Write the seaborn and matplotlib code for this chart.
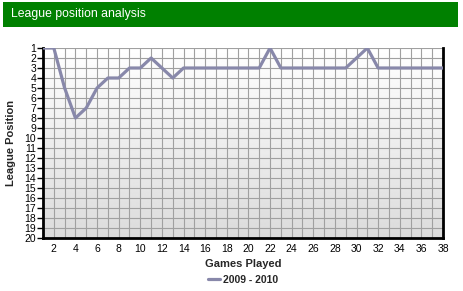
import numpy as np
import pandas as pd
import matplotlib
matplotlib.use("Agg")
import matplotlib.pyplot as plt
import seaborn as sns
from matplotlib.patches import Rectangle

games = list(range(1, 39))
positions = [1, 1, 5, 8, 7, 5, 4, 4, 3, 3, 2, 3, 4, 3, 3, 3, 3, 3, 3, 3,
             3, 1, 3, 3, 3, 3, 3, 3, 3, 2, 1, 3, 3, 3, 3, 3, 3, 3]
season = "2009 - 2010"
title = "League position analysis"
xlabel = "Games Played"
ylabel = "League Position"
xticks = list(range(2, 39, 2))
yticks = list(range(1, 21))

df = pd.DataFrame({"game": games, "pos": positions, "season": season})

sns.set_style("white")
plt.rcParams["font.family"] = ["Liberation Sans", "DejaVu Sans"]

W, H = 464, 291
fig = plt.figure(figsize=(W / 100, H / 100), dpi=100)
L, R, T, B = 43, 443, 48, 238
ax = fig.add_axes([L / W, 1 - B / H, (R - L) / W, (B - T) / H])

# gradient background
grad = np.linspace(1.0, 0.86, 256).reshape(-1, 1)
ax.imshow(grad, cmap="gray", vmin=0, vmax=1, aspect="auto",
          extent=[1, 38, 20, 1], zorder=0, interpolation="bilinear")

sns.lineplot(data=df, x="game", y="pos", hue="season", palette=["#8888aa"],
             linewidth=2.3, ax=ax, zorder=3)

ax.set_xlim(1, 38)
ax.set_ylim(20, 1)
ax.set_xticks(xticks)
ax.set_xticks(games, minor=True)
ax.set_yticks(yticks)
ax.grid(True, which="both", color="#a0a0a0", linewidth=0.8, zorder=1)
for ln in ax.get_xgridlines() + ax.get_ygridlines():
    ln.set_zorder(1)
ax.tick_params(axis="x", which="both", length=0, labelsize=7.5, pad=4, colors="black")
ax.tick_params(axis="y", length=4, width=1, labelsize=7.5, pad=1, left=True, colors="black")

for s in ["left", "bottom", "right"]:
    ax.spines[s].set_color("black")
    ax.spines[s].set_linewidth(2)
ax.spines["top"].set_visible(False)

ax.set_xlabel(xlabel, fontsize=8, fontweight="bold", labelpad=4)
ax.set_ylabel(ylabel, fontsize=8, fontweight="bold", labelpad=6)

leg = ax.legend(loc="center", bbox_to_anchor=(243 / W, 1 - 280 / H),
                bbox_transform=fig.transFigure, frameon=False,
                fontsize=7.5, handlelength=1.2, handletextpad=0.3,
                borderpad=0.1)
for t in leg.get_texts():
    t.set_fontweight("bold")

# title bar
fig.patches.append(Rectangle((3 / W, 1 - 27 / H), 455 / W, 25 / H,
                             transform=fig.transFigure, facecolor="#008000",
                             edgecolor="none"))
fig.text(11 / W, 1 - 14.5 / H, title, color="white", fontsize=8.8,
         va="center", ha="left")

fig.savefig("out.png", dpi=100)
